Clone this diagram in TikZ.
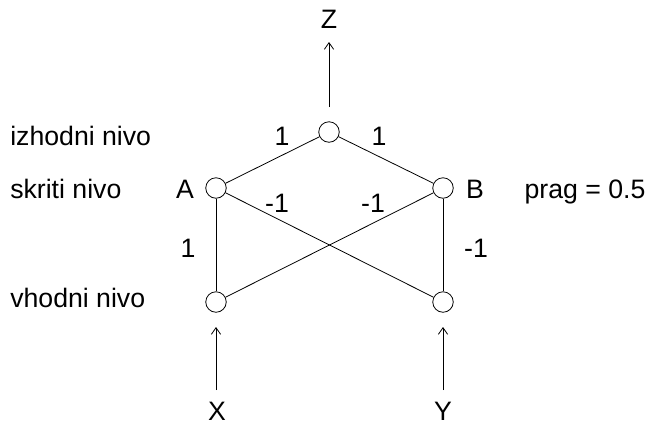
\documentclass[tikz,border=0pt]{standalone}
\usepackage{fontspec}
\setmainfont{Liberation Sans}
\usetikzlibrary{arrows.meta}

\begin{document}
\begin{tikzpicture}[
  x=0.75pt, y=-0.75pt,
  font=\fontsize{20}{24}\selectfont,
  unit/.style={draw, circle, minimum size=20.5*0.75pt, inner sep=0pt, line width=0.6pt},
  lbl/.style={inner sep=0pt, anchor=base},
  lvl/.style={inner sep=0pt, anchor=base west},
  wire/.style={line width=0.6pt},
  sig/.style={line width=0.6pt, -{Straight Barb[length=5pt, width=7pt, line width=0.6pt]}},
]
\useasboundingbox (0,0) rectangle (652,426);

% ---------------- Nevroni ----------------
\node[unit] (out) at (329,132) {};
\node[unit] (hA)  at (216,188) {};
\node[unit] (hB)  at (443,188) {};
\node[unit] (inX) at (216,302) {};
\node[unit] (inY) at (443,302) {};

% ---------------- Nivoji ----------------
\node[lvl] (lizh) at (10,145) {izhodni nivo};
\node[lvl] (lskr) at (10,198) {skriti nivo};
\node[lvl] (lvho) at (10,307) {vhodni nivo};

% ---------------- Oznake ----------------
\node[lbl] (nA) at (185,198) {A};
\node[lbl] (nB) at (475,198) {B};
\node[lbl] (prag) at (585,198) {prag = 0.5};
\node[lbl] (nZ) at (329,28) {Z};
\node[lbl] (nX) at (217,420) {X};
\node[lbl] (nY) at (443,420) {Y};

% ---------------- Povezave ----------------
\draw[wire] (hA) -- (out);
\draw[wire] (hB) -- (out);
\draw[wire] (inX) -- (hA);
\draw[wire] (inY) -- (hB);
\draw[wire] (hA) -- (inY);
\draw[wire] (hB) -- (inX);

% ---------------- Utezi ----------------
\node[lbl] (w1) at (282,145) {1};
\node[lbl] (w2) at (379,145) {1};
\node[lbl] (w3) at (277,212) {-1};
\node[lbl] (w4) at (373,212) {-1};
\node[lbl] (w5) at (188,257) {1};
\node[lbl] (w6) at (476,257) {-1};

% ---------------- Vhodi in izhod ----------------
\coordinate (zs) at (329,107);
\coordinate (zt) at (329,42);
\coordinate (xs) at (216,390);
\coordinate (xt) at (216,327);
\coordinate (ys) at (443,390);
\coordinate (yt) at (443,327);
\draw[sig] (zs) -- (zt);
\draw[sig] (xs) -- (xt);
\draw[sig] (ys) -- (yt);
\end{tikzpicture}
\end{document}
